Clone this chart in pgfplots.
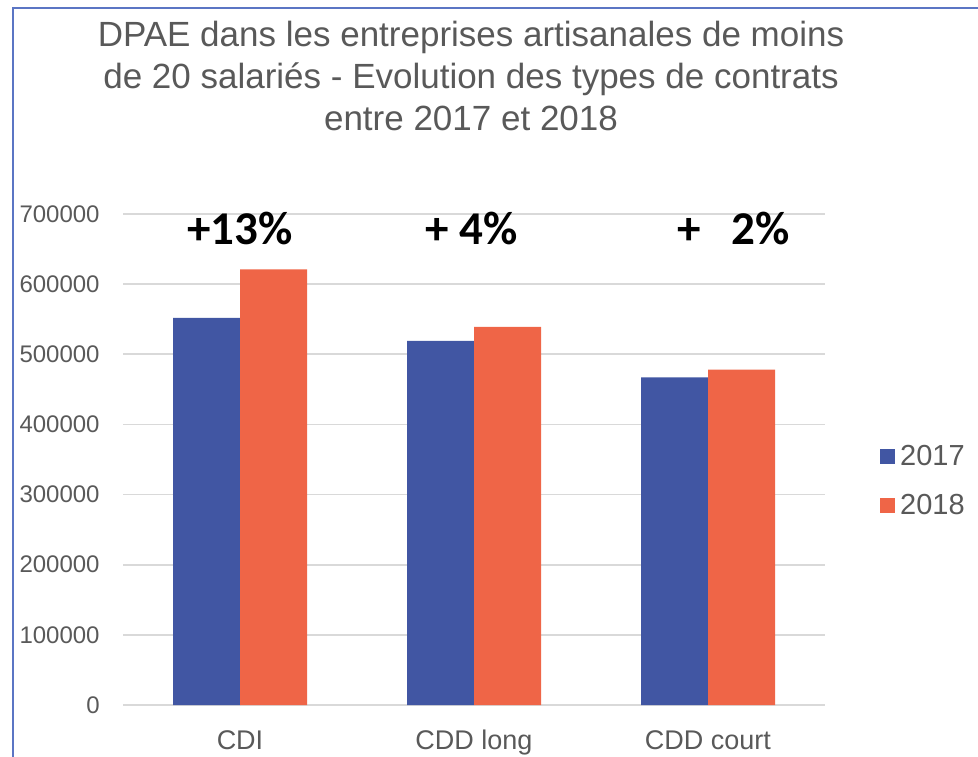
\documentclass[border=0pt]{standalone}
\usepackage{pgfplots}
\pgfplotsset{compat=1.18}
\usepackage{fontspec}
\setmainfont{Liberation Sans}
\newfontfamily\annotfont{Carlito}
\definecolor{bleu}{HTML}{4156A3}
\definecolor{orange}{HTML}{EF6547}
\definecolor{txtgray}{HTML}{595959}
\definecolor{gridgray}{HTML}{D9D9D9}
\definecolor{cadre}{HTML}{5B75C4}

\begin{document}
\begin{tikzpicture}
% 1 px of the reference = 0.5pt
\useasboundingbox (0,0) rectangle (489pt,378pt);
\draw[cadre, line width=0.8pt] (6.5pt,-5pt) -- (6.5pt,374pt) -- (495pt,374pt);

\begin{axis}[
  at={(61.5pt,25.5pt)}, anchor=south west,
  scale only axis, width=351pt, height=245.5pt,
  ybar=0pt, bar width=33.5pt,
  xmin=-0.5, xmax=2.5, ymin=0, ymax=700000,
  xtick={0,1,2}, xticklabels={CDI, CDD long, CDD court},
  ytick={0,100000,...,700000},
  scaled y ticks=false,
  yticklabel={\pgfmathprintnumber[fixed, precision=0, 1000 sep={}, assume math mode=true]{\tick}},
  axis line style={draw=none},
  major tick length=0pt,
  ymajorgrids=true, grid style={gridgray, line width=0.8pt},
  tick label style={text=txtgray},
  xticklabel style={font=\fontsize{13.5}{16}\selectfont, anchor=base, yshift=-22pt},
  yticklabel style={font=\fontsize{12}{14}\selectfont, anchor=east, inner sep=0pt, xshift=-11.5pt},
  legend style={draw=none, fill=none, at={(1.078,0.456)}, anchor=west,
    font=\fontsize{14.5}{17}\selectfont, text=txtgray, row sep=8pt,
    inner sep=0pt, nodes={inner sep=2.5pt}},
  legend cell align=left,
  clip=false,
]
\addplot[fill=bleu, draw=none,
  legend image code/.code={\fill[bleu] (0pt,-3.75pt) rectangle (7.5pt,3.75pt);}]
  coordinates {(0,552000) (1,519000) (2,467000)};
\addplot[fill=orange, draw=none,
  legend image code/.code={\fill[orange] (0pt,-3.75pt) rectangle (7.5pt,3.75pt);}]
  coordinates {(0,621000) (1,539000) (2,478000)};
\legend{2017, 2018}
\node[anchor=base, font=\annotfont\bfseries\fontsize{23.5}{26}\selectfont] at (axis cs:0,656000) {+13\%};
\node[anchor=base, font=\annotfont\bfseries\fontsize{23.5}{26}\selectfont] at (axis cs:0.99,656000) {+ 4\%};
\node[anchor=base, font=\annotfont\bfseries\fontsize{23.5}{26}\selectfont] at (axis cs:2.11,656000) {+\hspace{0.65em}2\%};
\end{axis}

\node[anchor=north, align=center, inner sep=0pt, text=txtgray,
  font=\fontsize{17.5}{21}\selectfont] at (235.5pt,367.5pt)
  {DPAE dans les entreprises artisanales de moins\\
   de 20 salariés - Evolution des types de contrats\\
   entre 2017 et 2018};
\end{tikzpicture}
\end{document}
